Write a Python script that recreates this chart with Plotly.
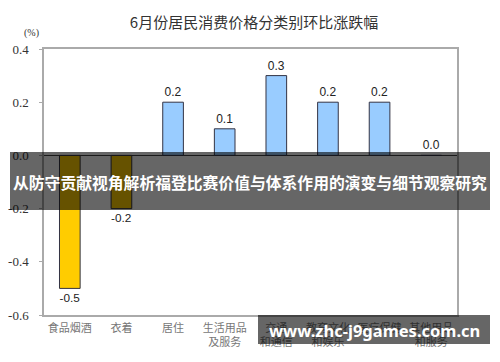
import plotly.graph_objects as go

categories = ["食品烟酒", "衣着", "居住", "生活用品<br>及服务", "交通<br>和通信",
              "教育文化<br>和娱乐", "医疗保健", "其他用品<br>和服务"]
values = [-0.5, -0.2, 0.2, 0.1, 0.3, 0.2, 0.2, 0.0]
bar_colors = ["#FFCC00", "#FFCC00", "#99CCFF", "#99CCFF", "#99CCFF", "#99CCFF", "#99CCFF", "#99CCFF"]
labels = [f"{v:.1f}" for v in values]
y_ticks = [0.4, 0.2, 0.0, -0.2, -0.4, -0.6]

W, H = 500, 362
L, R, T, B = 44, 43, 49, 47
pw, ph = W - L - R, H - T - B

def px(x):
    return (x - L) / pw

def py(y):
    return (H - B - y) / ph

fig = go.Figure()
fig.add_trace(go.Bar(
    x=categories, y=values, width=0.4,
    marker=dict(color=bar_colors, line=dict(color="#333344", width=1)),
    text=labels, textposition="outside", cliponaxis=False,
    textfont=dict(family="Liberation Sans, Arial", size=12, color="#222222"),
))

fig.update_layout(
    width=W, height=H,
    margin=dict(l=L, r=R, t=T, b=B, autoexpand=False),
    paper_bgcolor="white", plot_bgcolor="white",
    showlegend=False,
    bargap=0.6,
    title=dict(text="6月份居民消费价格分类别环比涨跌幅", x=0.508, xanchor="center",
               y=1 - 23 / H, yanchor="middle",
               font=dict(family="Noto Sans CJK SC", size=15, color="#333333")),
    xaxis=dict(range=[-0.5, 7.5], showline=True, linecolor="#AAAAAA", linewidth=1.5,
               mirror=True, ticks="", showgrid=False, ticklabelstandoff=2, automargin=False,
               tickfont=dict(family="Noto Sans CJK SC", size=11, color="#777777")),
    yaxis=dict(range=[-0.6, 0.4], tickvals=y_ticks, ticktext=[f"{v:.1f}" for v in y_ticks],
               showline=True, linecolor="#AAAAAA", linewidth=1.5, mirror=True,
               showgrid=False, zeroline=True, zerolinecolor="#444444", zerolinewidth=1,
               ticks="outside", ticklen=3, tickcolor="#AAAAAA", ticklabelstandoff=8,
               automargin=False,
               tickfont=dict(family="Liberation Serif", size=13, color="#333333")),
)

fig.add_annotation(text="(%)", xref="paper", yref="paper", x=px(31), y=py(33),
                   showarrow=False, xanchor="center", yanchor="middle",
                   font=dict(family="Liberation Serif", size=10, color="#333333"))

# Overlay band with headline
fig.add_shape(type="rect", xref="paper", yref="paper",
              x0=px(10), x1=px(490), y0=py(210), y1=py(152),
              fillcolor="rgba(0,0,0,0.6)", line=dict(width=0), layer="above")
fig.add_annotation(text="<b>从防守贡献视角解析福登比赛价值与体系作用的演变与细节观察研究</b>",
                   xref="paper", yref="paper", x=px(250), y=py(182),
                   showarrow=False, xanchor="center", yanchor="middle",
                   font=dict(family="Noto Sans CJK SC", size=15.8, color="white"))

# Watermark box
fig.add_shape(type="rect", xref="paper", yref="paper",
              x0=px(258), x1=px(490), y0=py(344), y1=py(315),
              fillcolor="rgba(0,0,0,0.6)", line=dict(width=0), layer="above")
fig.add_annotation(text="<b>www.zhc-j9games.com.cn</b>",
                   xref="paper", yref="paper", x=px(374), y=py(330),
                   showarrow=False, xanchor="center", yanchor="middle",
                   font=dict(family="Noto Sans", size=16.5, color="white"))

fig.write_html("out.html")
